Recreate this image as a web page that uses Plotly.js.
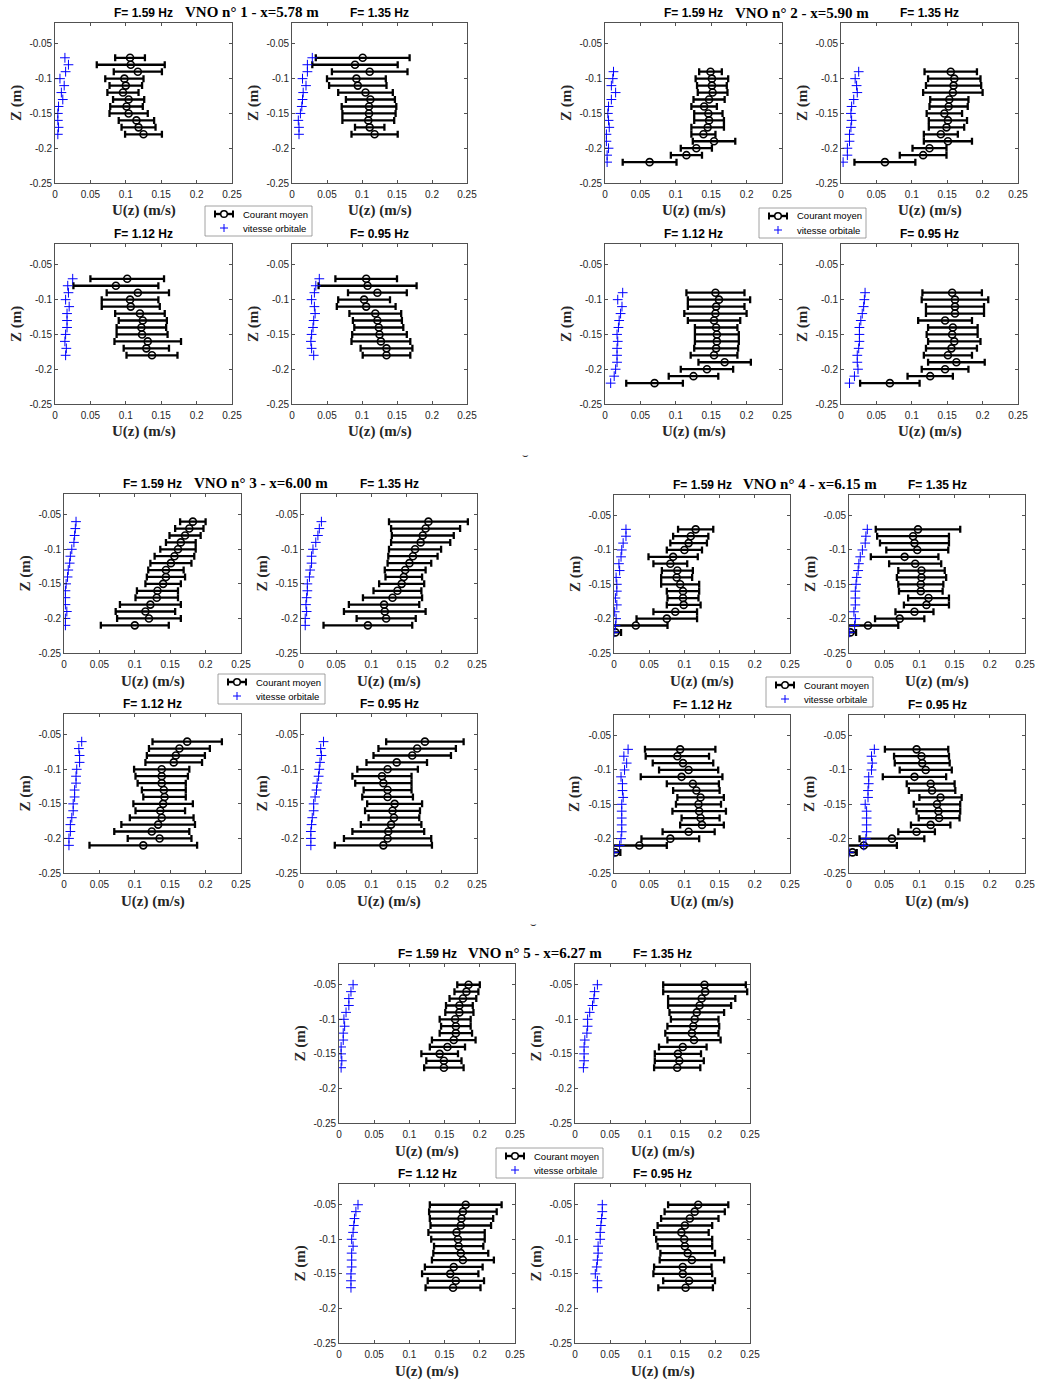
<!DOCTYPE html>
<html>
<head>
<meta charset="utf-8">
<script src="https://cdn.plot.ly/plotly-3.0.1.min.js"></script>
<style>html,body{margin:0;padding:0;background:#fff;}#chart{width:1038px;height:1384px;}</style>
</head>
<body>
<div id="chart"></div>
<script>
// ---------- labels ----------
const freqLabels = ['F= 1.59 Hz', 'F= 1.35 Hz', 'F= 1.12 Hz', 'F= 0.95 Hz'];
const vnoTitles = ['VNO n° 1 - x=5.78 m', 'VNO n° 2 - x=5.90 m', 'VNO n° 3 - x=6.00 m', 'VNO n° 4 - x=6.15 m', 'VNO n° 5 - x=6.27 m'];
const seriesNames = ['Courant moyen', 'vitesse orbitale'];
const xTickVals = [0, 0.05, 0.1, 0.15, 0.2, 0.25];
const xTickText = ['0', '0.05', '0.1', '0.15', '0.2', '0.25'];
const yTickVals = [-0.25, -0.2, -0.15, -0.1, -0.05];
const yTickText = ['-0.25', '-0.2', '-0.15', '-0.1', '-0.05'];
const xLabel = 'U(z) (m/s)';
const yLabel = 'Z (m)';

// ---------- VNO 1 ----------
const z_g1 = [-0.07,-0.08,-0.09,-0.10,-0.11,-0.12,-0.13,-0.14,-0.15,-0.16,-0.17,-0.18];
const u_g1 = [
  [0.106,0.107,0.117,0.098,0.100,0.096,0.104,0.101,0.104,0.115,0.118,0.125],
  [0.101,0.090,0.111,0.092,0.094,0.105,0.112,0.110,0.110,0.109,0.111,0.118],
  [0.102,0.086,0.117,0.106,0.107,0.120,0.124,0.122,0.123,0.131,0.129,0.137],
  [0.106,0.108,0.122,0.103,0.106,0.119,0.122,0.124,0.125,0.127,0.135,0.135]];
const e_g1 = [
  [0.021,0.048,0.034,0.027,0.023,0.022,0.022,0.023,0.027,0.025,0.024,0.026],
  [0.067,0.061,0.054,0.042,0.041,0.039,0.035,0.039,0.038,0.037,0.021,0.033],
  [0.052,0.060,0.044,0.040,0.041,0.035,0.034,0.035,0.036,0.047,0.032,0.036],
  [0.044,0.070,0.042,0.037,0.042,0.037,0.035,0.035,0.039,0.042,0.037,0.034]];
const v_g1 = [
  [0.014,0.019,0.015,0.007,0.013,0.009,0.011,0.005,0.004,0.004,0.005,0.004],
  [0.029,0.022,0.022,0.015,0.020,0.016,0.015,0.014,0.012,0.009,0.010,0.010],
  [0.025,0.018,0.019,0.015,0.020,0.017,0.017,0.017,0.015,0.014,0.016,0.015],
  [0.039,0.034,0.032,0.028,0.032,0.033,0.031,0.030,0.028,0.027,0.028,0.031]];

// ---------- VNO 2 ----------
const z_g2 = [-0.09,-0.10,-0.11,-0.12,-0.13,-0.14,-0.15,-0.16,-0.17,-0.18,-0.19,-0.20,-0.21,-0.22];
const u_g2 = [
  [0.149,0.151,0.151,0.152,0.147,0.140,0.146,0.147,0.145,0.139,0.154,0.129,0.115,0.063],
  [0.155,0.160,0.159,0.158,0.153,0.152,0.146,0.151,0.149,0.141,0.151,0.125,0.116,0.062],
  [0.156,0.161,0.157,0.156,0.154,0.157,0.158,0.158,0.157,0.154,0.169,0.144,0.125,0.070],
  [0.157,0.161,0.161,0.161,0.147,0.158,0.157,0.160,0.156,0.151,0.163,0.147,0.126,0.069]];
const e_g2 = [
  [0.016,0.023,0.021,0.021,0.022,0.018,0.020,0.021,0.023,0.017,0.030,0.022,0.022,0.038],
  [0.037,0.037,0.039,0.042,0.027,0.027,0.025,0.027,0.025,0.024,0.034,0.024,0.033,0.043],
  [0.041,0.044,0.040,0.044,0.037,0.030,0.031,0.031,0.031,0.033,0.037,0.037,0.035,0.040],
  [0.042,0.047,0.041,0.041,0.038,0.035,0.036,0.037,0.036,0.034,0.040,0.033,0.032,0.042]];
const v_g2 = [
  [0.012,0.011,0.009,0.015,0.009,0.005,0.004,0.005,0.006,0.002,0.002,0.005,0.003,0.003],
  [0.025,0.020,0.022,0.023,0.018,0.015,0.014,0.015,0.014,0.012,0.012,0.009,0.009,0.003],
  [0.025,0.018,0.024,0.022,0.020,0.019,0.017,0.018,0.017,0.017,0.017,0.015,0.013,0.008],
  [0.034,0.033,0.032,0.030,0.028,0.026,0.026,0.026,0.025,0.023,0.023,0.024,0.019,0.012]];

// ---------- VNO 3 ----------
const z_g3 = [-0.06,-0.07,-0.08,-0.09,-0.10,-0.11,-0.12,-0.13,-0.14,-0.15,-0.16,-0.17,-0.18,-0.19,-0.20,-0.21];
const u_g3 = [
  [0.182,0.177,0.171,0.165,0.161,0.156,0.151,0.144,0.144,0.140,0.132,0.131,0.122,0.115,0.120,0.100],
  [0.181,0.177,0.173,0.170,0.162,0.159,0.154,0.148,0.146,0.143,0.137,0.130,0.118,0.119,0.121,0.095],
  [0.174,0.163,0.158,0.155,0.138,0.138,0.138,0.141,0.142,0.140,0.136,0.138,0.133,0.124,0.135,0.112],
  [0.176,0.165,0.158,0.136,0.123,0.115,0.117,0.123,0.123,0.133,0.130,0.132,0.128,0.124,0.123,0.117]];
const e_g3 = [
  [0.018,0.020,0.022,0.021,0.025,0.028,0.029,0.025,0.027,0.025,0.029,0.030,0.043,0.042,0.045,0.048],
  [0.056,0.049,0.044,0.042,0.037,0.035,0.031,0.029,0.026,0.032,0.034,0.042,0.050,0.058,0.042,0.063],
  [0.049,0.043,0.041,0.040,0.039,0.037,0.034,0.031,0.030,0.042,0.035,0.045,0.052,0.053,0.045,0.076],
  [0.055,0.055,0.055,0.043,0.043,0.042,0.040,0.034,0.036,0.039,0.039,0.036,0.043,0.051,0.062,0.069]];
const v_g3 = [
  [0.017,0.016,0.015,0.014,0.011,0.009,0.008,0.006,0.005,0.003,0.002,0.002,0.002,0.004,0.002,0.002],
  [0.029,0.026,0.024,0.021,0.017,0.015,0.015,0.013,0.012,0.009,0.009,0.008,0.007,0.008,0.006,0.006],
  [0.025,0.021,0.022,0.022,0.018,0.017,0.017,0.015,0.015,0.013,0.013,0.011,0.009,0.009,0.007,0.007],
  [0.032,0.028,0.029,0.027,0.026,0.025,0.023,0.022,0.020,0.018,0.018,0.016,0.015,0.014,0.014,0.014]];

// ---------- VNO 4 ----------
const z_g4 = [-0.07,-0.08,-0.09,-0.10,-0.11,-0.12,-0.13,-0.14,-0.15,-0.16,-0.17,-0.18,-0.19,-0.20,-0.21,-0.22];
const u_g4 = [
  [0.116,0.109,0.106,0.100,0.084,0.080,0.090,0.089,0.094,0.098,0.098,0.099,0.087,0.075,0.031,0.002],
  [0.098,0.091,0.093,0.097,0.079,0.094,0.103,0.103,0.102,0.102,0.113,0.110,0.093,0.072,0.027,0.002],
  [0.094,0.090,0.098,0.106,0.096,0.112,0.117,0.123,0.120,0.121,0.123,0.125,0.106,0.080,0.036,0.002],
  [0.096,0.103,0.104,0.109,0.093,0.116,0.118,0.130,0.125,0.127,0.128,0.116,0.096,0.061,0.021,0.005]];
const e_g4 = [
  [0.025,0.025,0.026,0.025,0.035,0.024,0.022,0.022,0.027,0.023,0.022,0.024,0.031,0.043,0.045,0.008],
  [0.060,0.051,0.049,0.044,0.048,0.037,0.033,0.035,0.032,0.031,0.029,0.032,0.027,0.035,0.043,0.008],
  [0.050,0.045,0.043,0.042,0.058,0.037,0.033,0.033,0.032,0.038,0.027,0.031,0.037,0.041,0.039,0.007],
  [0.045,0.039,0.039,0.037,0.045,0.034,0.033,0.030,0.033,0.031,0.029,0.028,0.026,0.046,0.047,0.006]];
const v_g4 = [
  [0.017,0.017,0.013,0.011,0.010,0.007,0.008,0.003,0.004,0.004,0.002,0.004,0.001,0.003,0.002,0.000],
  [0.026,0.024,0.023,0.019,0.016,0.014,0.013,0.011,0.010,0.009,0.009,0.009,0.007,0.009,0.008,0.001],
  [0.020,0.014,0.018,0.015,0.010,0.012,0.012,0.013,0.011,0.011,0.011,0.011,0.011,0.010,0.008,0.000],
  [0.036,0.032,0.033,0.032,0.028,0.028,0.027,0.027,0.023,0.025,0.025,0.025,0.025,0.024,0.021,0.000]];

// ---------- VNO 5 ----------
const z_g5 = [-0.05,-0.06,-0.07,-0.08,-0.09,-0.10,-0.11,-0.12,-0.13,-0.14,-0.15,-0.16,-0.17];
const u_g5 = [
  [0.184,0.181,0.176,0.171,0.171,0.165,0.166,0.166,0.163,0.154,0.143,0.149,0.149],
  [0.185,0.186,0.181,0.178,0.174,0.171,0.169,0.167,0.170,0.154,0.147,0.149,0.146],
  [0.180,0.176,0.174,0.173,0.167,0.169,0.170,0.173,0.176,0.163,0.158,0.166,0.162],
  [0.176,0.171,0.164,0.157,0.152,0.156,0.157,0.161,0.167,0.154,0.154,0.163,0.158]];
const e_g5 = [
  [0.016,0.017,0.019,0.019,0.020,0.022,0.021,0.023,0.031,0.025,0.026,0.025,0.028],
  [0.059,0.060,0.048,0.045,0.039,0.034,0.037,0.038,0.038,0.034,0.033,0.035,0.033],
  [0.051,0.048,0.045,0.043,0.040,0.038,0.035,0.039,0.044,0.041,0.040,0.040,0.039],
  [0.043,0.043,0.041,0.039,0.039,0.040,0.039,0.039,0.046,0.041,0.042,0.037,0.039]];
const v_g5 = [
  [0.020,0.017,0.014,0.014,0.010,0.007,0.008,0.006,0.006,0.003,0.003,0.004,0.003],
  [0.032,0.028,0.027,0.025,0.021,0.018,0.018,0.017,0.014,0.013,0.013,0.013,0.012],
  [0.027,0.024,0.022,0.021,0.020,0.018,0.020,0.018,0.018,0.018,0.017,0.017,0.017],
  [0.039,0.039,0.038,0.037,0.036,0.036,0.033,0.033,0.032,0.031,0.029,0.032,0.032]];

const groups = [
  {z: z_g1, u: u_g1, e: e_g1, v: v_g1},
  {z: z_g2, u: u_g2, e: e_g2, v: v_g2},
  {z: z_g3, u: u_g3, e: e_g3, v: v_g3},
  {z: z_g4, u: u_g4, e: e_g4, v: v_g4},
  {z: z_g5, u: u_g5, e: e_g5, v: v_g5}
];

// ---------- page geometry (pixels) ----------
const W = 1038, H = 1384;
const boxes = [
  {L:[55,232],  R:[292,467],  T:[23,183],  B:[244,404],  title:[252,12],  leg:[205,206]},
  {L:[605,782], R:[841,1018], T:[23,183],  B:[244,404],  title:[802,13],  leg:[759,208]},
  {L:[64,241],  R:[301,477],  T:[494,653], B:[714,873],  title:[261,483], leg:[218,674]},
  {L:[614,790], R:[849,1025], T:[495,653], B:[715,873],  title:[810,484], leg:[766,677]},
  {L:[339,515], R:[575,750],  T:[964,1123],B:[1184,1343],title:[535,953], leg:[496,1148]}
];
const LEG_W = 107, LEG_H = 30;

const SANS = 'Liberation Sans, Arial, sans-serif';
const SERIF = 'Liberation Serif, Times New Roman, serif';
const AX = '#262626';

const traces = [];
const layout = {
  width: W, height: H,
  margin: {l:0, r:0, t:0, b:0},
  paper_bgcolor: '#ffffff', plot_bgcolor: '#ffffff',
  showlegend: false,
  annotations: [],
  shapes: []
};

function px2x(p) { return p / W; }
function py2y(p) { return 1 - p / H; }
function pline(x0, y0, x1, y1, color, width) {
  layout.shapes.push({type: 'line', xref: 'paper', yref: 'paper',
    x0: px2x(x0), x1: px2x(x1), y0: py2y(y0), y1: py2y(y1),
    line: {color: color, width: width}});
}

function addLegend(x0, y0) {
  layout.shapes.push({type: 'rect', xref: 'paper', yref: 'paper',
    x0: px2x(x0), x1: px2x(x0 + LEG_W), y0: py2y(y0 + LEG_H), y1: py2y(y0),
    line: {color: '#8a8a8a', width: 0.8}, fillcolor: '#ffffff', layer: 'above'});
  const cx = x0 + 19, r1 = y0 + 8, r2 = y0 + 22;
  pline(cx - 9, r1, cx + 9, r1, '#000', 2.4);
  pline(cx - 9, r1 - 3.5, cx - 9, r1 + 3.5, '#000', 2);
  pline(cx + 9, r1 - 3.5, cx + 9, r1 + 3.5, '#000', 2);
  layout.shapes.push({type: 'circle', xref: 'paper', yref: 'paper',
    x0: px2x(cx - 3.3), x1: px2x(cx + 3.3), y0: py2y(r1 + 3.3), y1: py2y(r1 - 3.3),
    line: {color: '#000', width: 1.5}, fillcolor: '#ffffff'});
  pline(cx - 4, r2, cx + 4, r2, '#0000ff', 1);
  pline(cx, r2 - 4, cx, r2 + 4, '#0000ff', 1);
  [[seriesNames[0], r1], [seriesNames[1], r2]].forEach(it => {
    layout.annotations.push({xref: 'paper', yref: 'paper', x: px2x(x0 + 36), y: py2y(it[1]),
      xanchor: 'left', yanchor: 'middle', showarrow: false, text: it[0],
      font: {family: SANS, size: 9.5, color: '#000'}});
  });
}

groups.forEach((g, gi) => {
  const b = boxes[gi];
  layout.annotations.push({
    xref: 'paper', yref: 'paper', x: px2x(b.title[0]), y: py2y(b.title[1]),
    xanchor: 'center', yanchor: 'middle', showarrow: false,
    text: '<b>' + vnoTitles[gi] + '</b>', font: {family: SERIF, size: 15, color: '#000'}
  });
  for (let k = 0; k < 4; k++) {
    const idx = gi * 4 + k + 1;
    const xs = (k % 2 === 0) ? b.L : b.R;
    const ys = (k < 2) ? b.T : b.B;
    const xa = 'xaxis' + (idx === 1 ? '' : idx);
    const ya = 'yaxis' + (idx === 1 ? '' : idx);
    const xr = 'x' + (idx === 1 ? '' : idx);
    const yr = 'y' + (idx === 1 ? '' : idx);
    layout[xa] = {
      domain: [px2x(xs[0]), px2x(xs[1])], anchor: yr, range: [0, 0.25],
      tickmode: 'array', tickvals: xTickVals, ticktext: xTickText,
      ticks: 'inside', ticklen: 3, tickwidth: 0.8, tickcolor: AX,
      showline: true, mirror: 'ticks', linecolor: AX, linewidth: 0.8,
      showgrid: false, zeroline: false, fixedrange: true, ticklabelstandoff: 2,
      tickfont: {family: SANS, size: 10, color: AX}
    };
    layout[ya] = {
      domain: [py2y(ys[1]), py2y(ys[0])], anchor: xr, range: [-0.25, -0.02],
      tickmode: 'array', tickvals: yTickVals, ticktext: yTickText,
      ticks: 'inside', ticklen: 3, tickwidth: 0.8, tickcolor: AX,
      showline: true, mirror: 'ticks', linecolor: AX, linewidth: 0.8,
      showgrid: false, zeroline: false, fixedrange: true,
      tickfont: {family: SANS, size: 10, color: AX}
    };
    traces.push({
      type: 'scatter', mode: 'markers', x: g.u[k], y: g.z,
      xaxis: xr, yaxis: yr, name: seriesNames[0], showlegend: false,
      marker: {symbol: 'circle-open', size: 7, color: '#000', line: {width: 1.6, color: '#000'}},
      error_x: {type: 'data', array: g.e[k], visible: true, color: '#000', thickness: 2.3, width: 3.5}
    });
    traces.push({
      type: 'scatter', mode: 'markers', x: g.v[k], y: g.z,
      xaxis: xr, yaxis: yr, name: seriesNames[1], showlegend: false,
      marker: {symbol: 'cross-thin-open', size: 7, color: '#0000ff', line: {width: 1, color: '#0000ff'}}
    });
    const cx = (xs[0] + xs[1]) / 2;
    layout.annotations.push({
      xref: 'paper', yref: 'paper', x: px2x(cx), y: py2y(ys[0] - 10),
      xanchor: 'center', yanchor: 'middle', showarrow: false,
      text: '<b>' + freqLabels[k] + '</b>', font: {family: SANS, size: 12, color: '#000'}
    });
    layout.annotations.push({
      xref: 'paper', yref: 'paper', x: px2x(cx), y: py2y(ys[1] + 28),
      xanchor: 'center', yanchor: 'middle', showarrow: false,
      text: '<b>' + xLabel + '</b>', font: {family: SERIF, size: 15, color: '#262626'}
    });
    layout.annotations.push({
      xref: 'paper', yref: 'paper', x: px2x(xs[0] - 39), y: py2y((ys[0] + ys[1]) / 2),
      xanchor: 'center', yanchor: 'middle', showarrow: false, textangle: -90,
      text: '<b>' + yLabel + '</b>', font: {family: SERIF, size: 15, color: '#262626'}
    });
  }
  addLegend(b.leg[0], b.leg[1]);
});

[[525, 455], [533, 925]].forEach(p => {
  layout.annotations.push({
    xref: 'paper', yref: 'paper', x: px2x(p[0]), y: py2y(p[1]),
    xanchor: 'center', yanchor: 'middle', showarrow: false,
    text: '⌣', font: {family: 'DejaVu Sans', size: 10, color: '#333'}
  });
});

Plotly.newPlot('chart', traces, layout, {staticPlot: true, displayModeBar: false});
</script>
</body>
</html>
